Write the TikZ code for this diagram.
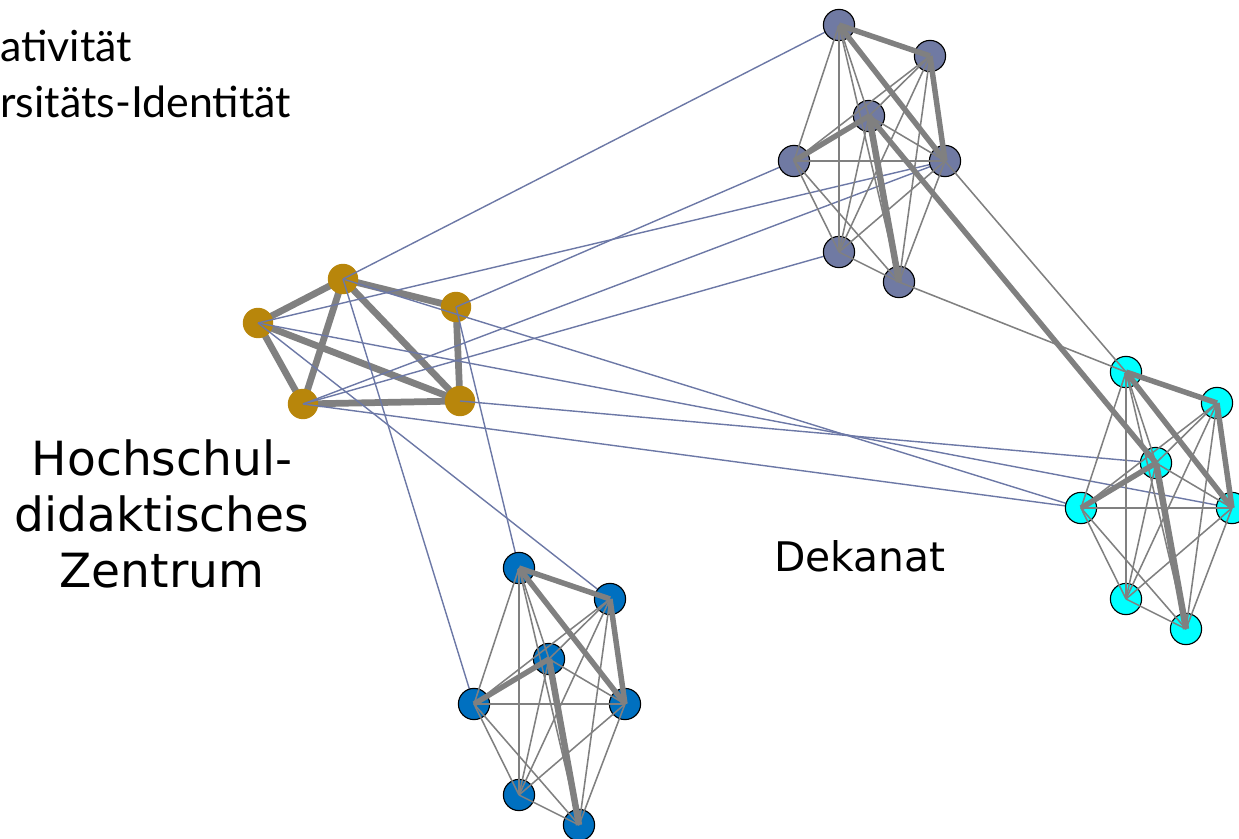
\documentclass[tikz,border=0pt]{standalone}
\usepackage{fontspec}
\newfontfamily\gillfont{Lato}
\newfontfamily\verdfont{DejaVu Sans}
\usepackage{tikz}
\usetikzlibrary{arrows.meta}
\definecolor{slate}{RGB}{112,122,163}
\definecolor{linkblue}{RGB}{108,120,166}
\definecolor{gold}{RGB}{184,134,11}
\definecolor{unicyan}{RGB}{0,255,255}
\definecolor{uniblue}{RGB}{0,112,192}
\definecolor{tiegray}{RGB}{128,128,128}
\pgfdeclarelayer{back}
\pgfdeclarelayer{mid}
\pgfdeclarelayer{links}
\pgfdeclarelayer{front}
\pgfsetlayers{back,mid,links,main,front}

\begin{document}
\begin{tikzpicture}[x=0.025cm,y=-0.025cm,
    actor/.style={circle,draw=black,line width=0.8pt,minimum size=0.78cm,inner sep=0pt},
    goldactor/.style={circle,fill=gold,minimum size=0.76cm,inner sep=0pt},
    tie/.style={tiegray,line width=1.1pt},
    strongtie/.style={tiegray,line width=3.9pt},
    strongesttie/.style={tiegray,line width=4.6pt},
    goldtie/.style={tiegray,line width=4.8pt},
    link/.style={linkblue,line width=1pt}]
    \useasboundingbox (0,0) rectangle (1239,839);

    % labels
    \node[anchor=base west,inner sep=0pt,font=\gillfont\fontsize{30.5}{36}\selectfont] (lab1) at (0,62) {ativität};
    \node[anchor=base west,inner sep=0pt,font=\gillfont\fontsize{30.5}{36}\selectfont] (lab2) at (0,118) {rsitäts-Identität};
    \node[align=center,inner sep=0pt,font=\verdfont\fontsize{33.5}{39.7}\selectfont] (hdz) at (162,514) {Hochschul-\\didaktisches\\Zentrum};
    \node[anchor=base west,inner sep=0pt,font=\verdfont\fontsize{29}{34}\selectfont] (dek) at (774,572) {Dekanat};

    % Hochschuldidaktisches Zentrum
    \begin{pgfonlayer}{mid}
    \node[goldactor] (h1) at (258,323) {};
    \node[goldactor] (h2) at (343,279) {};
    \node[goldactor] (h3) at (456,307) {};
    \node[goldactor] (h4) at (303,404) {};
    \node[goldactor] (h5) at (460,401) {};
    \end{pgfonlayer}

    % the three groups share one layout
    \foreach \g/\gx/\gy/\col in {s/839/25/slate, c/1126/372/unicyan, b/519/568/uniblue}{
      \begin{scope}[shift={(\gx,\gy)}]
        \node[actor,fill=\col] (\g1) at (0,0) {};
        \node[actor,fill=\col] (\g2) at (91,31) {};
        \node[actor,fill=\col] (\g3) at (30,91) {};
        \node[actor,fill=\col] (\g4) at (-45,136) {};
        \node[actor,fill=\col] (\g5) at (106,136) {};
        \node[actor,fill=\col] (\g6) at (0,227) {};
        \node[actor,fill=\col] (\g7) at (60,257) {};
      \end{scope}
    }

    \begin{pgfonlayer}{back}
    \foreach \i/\j in {h1/h2,h2/h3,h3/h5,h4/h5,h1/h4,h2/h4,h2/h5,h1/h5}
      \draw[goldtie] (\i.center) -- (\j.center);
    \end{pgfonlayer}

    \begin{pgfonlayer}{links}
    \foreach \i/\j in {h2/s1,h1/s5,h3/s4,h4/s5,h4/s6,h2/c4,h1/c5,h5/c3,h4/c4,h2/b4,h3/b1,h1/b2}
      \draw[link] (\i.center) -- (\j.center);
    \end{pgfonlayer}

    \begin{pgfonlayer}{front}
    \foreach \g in {s,c,b}{
      \foreach \i/\j in {1/3,1/4,1/6,1/7,2/3,2/4,2/6,2/7,3/5,3/6,4/5,4/6,4/7,5/6,5/7,6/7}
        \draw[tie] (\g\i.center) -- (\g\j.center);
      \foreach \i/\j in {1/2,1/5,2/5,3/4}
        \draw[strongtie] (\g\i.center) -- (\g\j.center);
      \draw[strongesttie] (\g3.center) -- (\g7.center);
    }
    \draw[tie] (s5.center) -- (c1.center);
    \draw[tie] (s7.center) -- (c1.center);
    \draw[strongtie] (s3.center) -- (c3.center);
    \end{pgfonlayer}
\end{tikzpicture}
\end{document}
